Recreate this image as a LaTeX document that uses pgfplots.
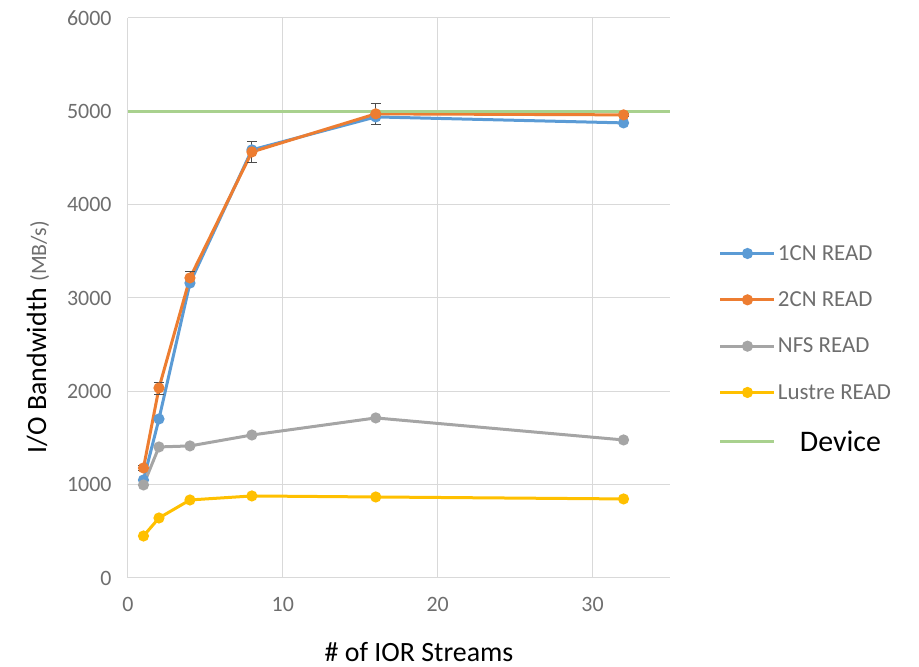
\documentclass[border=0pt]{standalone}
\usepackage{fontspec}
\setmainfont{Carlito}
\usepackage{pgfplots}
\pgfplotsset{compat=1.18}
\definecolor{c1}{RGB}{91,155,213}
\definecolor{c2}{RGB}{237,125,49}
\definecolor{c3}{RGB}{165,165,165}
\definecolor{c4}{RGB}{255,192,0}
\definecolor{c5}{RGB}{169,209,142}
\definecolor{gridgray}{RGB}{217,217,217}
\definecolor{textgray}{RGB}{110,110,110}
\begin{document}
\begin{tikzpicture}[x=1bp,y=1bp]
\useasboundingbox (-128,-89) rectangle (791,578);
\begin{axis}[
  at={(0,0)}, anchor=south west,
  scale only axis, width=542bp, height=560bp,
  xmin=0, xmax=35, ymin=0, ymax=6000,
  xtick={0,10,20,30}, ytick={0,1000,...,6000},
  grid=major, grid style={color=gridgray, line width=1bp},
  axis line style={draw=none},
  major tick length=0pt,
  /pgf/number format/assume math mode=true,
  /pgf/number format/1000 sep={},
  tick label style={font=\fontsize{22}{26}\selectfont, text=textgray},
  yticklabel style={xshift=-13bp},
  xticklabel style={yshift=-16bp},
  xlabel={\# of IOR Streams},
  xlabel style={font=\fontsize{28}{30}\selectfont, at={(axis description cs:0.537,-0.132)}, anchor=center},
  ylabel={I/O Bandwidth \textcolor{textgray}{\fontsize{22}{26}\selectfont (MB/s)}},
  ylabel style={font=\fontsize{28}{30}\selectfont, at={(axis description cs:-0.166,0.43)}, anchor=center},
  legend style={at={(axis description cs:1.09,0.598)}, anchor=north west, draw=none, fill=none,
    font=\fontsize{23}{27}\selectfont, text=textgray, row sep=26bp, inner sep=0pt},
  legend cell align=left,
  legend image code/.code={\draw[mark repeat=2,mark phase=2] plot coordinates {(0bp,0bp) (27bp,0bp) (54bp,0bp)};},
  every axis plot/.append style={line width=3bp, mark=*, mark size=4bp},
  error bars/error bar style={black!70, line width=0.8bp},
  error bars/error mark options={rotate=90, mark size=5bp, black!70, line width=0.8bp},
]
\addplot[color=c1, mark options={fill=c1, draw=c1}] coordinates {
  (1,1050) (2,1704) (4,3160) (8,4587) (16,4940) (32,4876)};
\addlegendentry{1CN READ}
\addplot[color=c2, mark options={fill=c2, draw=c2},
  error bars/.cd, y dir=both, y explicit] coordinates {
  (1,1179) +- (0,30)
  (2,2036) +- (0,65)
  (4,3215) +- (0,65)
  (8,4565) +- (0,110)
  (16,4973) +- (0,110)
  (32,4962) +- (0,20)};
\addlegendentry{2CN READ}
\addplot[color=c3, mark options={fill=c3, draw=c3}] coordinates {
  (1,997) (2,1404) (4,1415) (8,1532) (16,1715) (32,1479)};
\addlegendentry{NFS READ}
\addplot[color=c4, mark options={fill=c4, draw=c4}] coordinates {
  (1,450) (2,643) (4,836) (8,879) (16,868) (32,847)};
\addlegendentry{Lustre READ}
\addplot[color=c5, mark=none] coordinates {(0,5000) (35,5000)};
\addlegendentry{\hspace{22bp}\textcolor{black}{\fontsize{30}{30}\selectfont Device}}
\end{axis}
\end{tikzpicture}
\end{document}
